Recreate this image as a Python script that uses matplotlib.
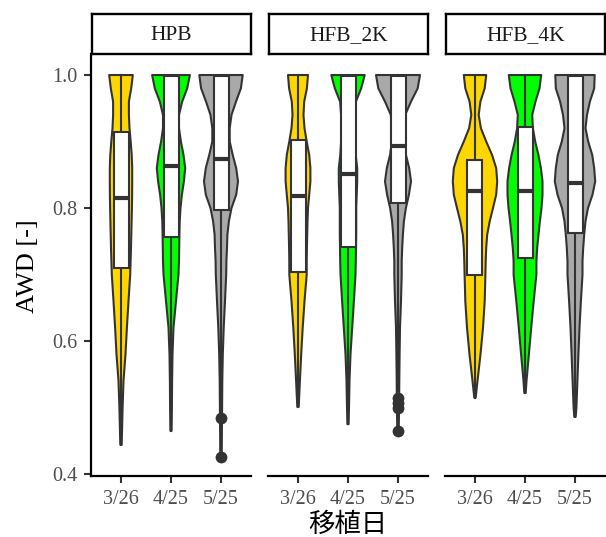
import matplotlib.pyplot as plt
from matplotlib.patches import Rectangle

facets = ['HPB', 'HFB_2K', 'HFB_4K']
dates = ['3/26', '4/25', '5/25']
fills = ['#FFD700', '#00FF00', '#A9A9A9']

# violin half-widths (px, 50 px = one category step)
levels = [1.00, 0.98, 0.96, 0.94, 0.92, 0.90, 0.88, 0.86, 0.84, 0.82,
          0.80, 0.78, 0.76, 0.74, 0.72, 0.70, 0.66, 0.62, 0.58, 0.54]

widths = {
    ('HPB', '3/26'): [11.8, 10.2, 7.9, 7.9, 8.5, 9.7, 10.7, 11.2, 11.2, 11.1,
                      10.9, 10.6, 10.3, 10.0, 9.6, 9.2, 7.5, 5.9, 4.5, 2.5],
    ('HPB', '4/25'): [18.9, 16.2, 11.2, 8.0, 8.0, 9.9, 12.5, 14.2, 12.9, 10.9,
                      9.5, 8.7, 8.4, 8.2, 8.0, 7.5, 5.0, 2.5, 1.5, 1.1],
    ('HPB', '5/25'): [21.7, 19.9, 15.0, 10.5, 8.7, 8.7, 11.7, 15.2, 17.0, 15.2,
                      10.5, 7.9, 6.4, 6.0, 5.4, 5.2, 4.0, 2.7, 1.8, 1.3],
    ('HFB_2K', '3/26'): [10.0, 8.9, 6.2, 5.5, 6.5, 8.7, 11.2, 12.4, 12.4, 11.2,
                         10.0, 9.5, 9.2, 8.9, 8.7, 8.7, 6.5, 4.7, 3.2, 1.9],
    ('HFB_2K', '4/25'): [16.7, 13.2, 7.9, 6.9, 6.9, 6.9, 7.7, 9.2, 9.2, 8.7,
                         8.2, 8.2, 8.2, 8.0, 7.8, 7.5, 5.9, 4.2, 2.5, 1.5],
    ('HFB_2K', '5/25'): [22.0, 19.7, 13.0, 7.2, 6.2, 6.2, 7.9, 11.2, 13.0, 10.9,
                         7.9, 5.9, 4.9, 4.2, 3.7, 3.7, 3.0, 2.0, 1.6, 1.3],
    ('HFB_4K', '3/26'): [11.2, 9.7, 5.4, 3.7, 5.9, 11.2, 17.0, 21.2, 22.2, 21.2,
                         18.0, 14.7, 12.2, 11.2, 10.7, 10.4, 9.7, 8.0, 5.5, 2.5],
    ('HFB_4K', '4/25'): [16.2, 14.5, 10.5, 7.2, 7.9, 10.2, 13.4, 15.9, 17.5, 17.5,
                         16.5, 14.9, 13.5, 12.2, 11.4, 11.4, 8.7, 6.2, 3.9, 1.5],
    ('HFB_4K', '5/25'): [19.7, 19.2, 14.9, 12.0, 10.5, 13.2, 17.2, 19.2, 20.2, 17.5,
                         13.0, 10.5, 9.2, 8.2, 7.5, 7.5, 5.9, 4.5, 3.4, 2.4],
}

# lower tails (y, half-width)
tails = {
    ('HPB', '3/26'): [(0.50, 1.6), (0.444, 0.7)],
    ('HPB', '4/25'): [(0.50, 0.9), (0.465, 0.6)],
    ('HPB', '5/25'): [(0.50, 1.1), (0.425, 0.7)],
    ('HFB_2K', '3/26'): [(0.501, 0.7)],
    ('HFB_2K', '4/25'): [(0.50, 1.0), (0.475, 0.6)],
    ('HFB_2K', '5/25'): [(0.50, 1.1), (0.464, 0.7)],
    ('HFB_4K', '3/26'): [(0.515, 0.7)],
    ('HFB_4K', '4/25'): [(0.522, 0.7)],
    ('HFB_4K', '5/25'): [(0.50, 1.4), (0.486, 0.7)],
}

# box stats: lower whisker, q1, median, q3, upper whisker
boxes = {
    ('HPB', '3/26'): (0.444, 0.710, 0.815, 0.915, 1.0),
    ('HPB', '4/25'): (0.465, 0.757, 0.863, 0.998, 1.0),
    ('HPB', '5/25'): (0.500, 0.797, 0.874, 0.998, 1.0),
    ('HFB_2K', '3/26'): (0.501, 0.704, 0.818, 0.902, 1.0),
    ('HFB_2K', '4/25'): (0.475, 0.742, 0.851, 0.998, 1.0),
    ('HFB_2K', '5/25'): (0.525, 0.808, 0.894, 0.998, 1.0),
    ('HFB_4K', '3/26'): (0.515, 0.699, 0.826, 0.872, 1.0),
    ('HFB_4K', '4/25'): (0.522, 0.725, 0.826, 0.922, 1.0),
    ('HFB_4K', '5/25'): (0.486, 0.762, 0.838, 0.998, 1.0),
}

outliers = {
    ('HPB', '5/25'): [0.484, 0.425],
    ('HFB_2K', '5/25'): [0.514, 0.507, 0.499, 0.464],
}

serif = 'Liberation Serif'
dark = '#333333'
lw = 1.5
W, H = 606, 537
lefts = [91, 268, 445]
pw, top, bottom = 160, 54, 476

fig = plt.figure(figsize=(W / 100, H / 100), dpi=100)

for i, facet in enumerate(facets):
    ax = fig.add_axes([lefts[i] / W, (H - bottom) / H, pw / W, (bottom - top) / H])
    ax.set_xlim(0.4, 3.6)
    ax.set_ylim(0.3970, 1.0316)

    for j, d in enumerate(dates):
        key = (facet, d)
        c = j + 1
        ys = levels + [t[0] for t in tails[key]]
        ws = [w / 50 for w in widths[key]] + [t[1] / 50 for t in tails[key]]
        xs = [c - w for w in ws] + [c + w for w in ws[::-1]]
        yy = ys + ys[::-1]
        ax.fill(xs, yy, facecolor=fills[j], edgecolor=dark, lw=lw,
                joinstyle='round', zorder=1)

        lo, q1, med, q3, hi = boxes[key]
        ax.plot([c, c], [q3, hi], color=dark, lw=lw, zorder=2)
        ax.plot([c, c], [lo, q1], color=dark, lw=lw, zorder=2)
        ax.add_patch(Rectangle((c - 0.15, q1), 0.3, q3 - q1, facecolor='white',
                               edgecolor=dark, lw=lw, zorder=3))
        ax.plot([c - 0.15, c + 0.15], [med, med], color=dark, lw=3.0,
                solid_capstyle='butt', zorder=4)
        if key in outliers:
            ax.plot([c] * len(outliers[key]), outliers[key], 'o', color=dark,
                    ms=8.5, mec='none', zorder=5)

    for s in ['top', 'right']:
        ax.spines[s].set_visible(False)
    ax.spines['bottom'].set_linewidth(1.6)
    ax.spines['bottom'].set_color('black')
    ax.set_xticks([1, 2, 3])
    ax.set_xticklabels(dates, fontsize=14.5, family=serif, color='#4D4D4D')
    ax.set_yticks([0.4, 0.6, 0.8, 1.0])
    ax.tick_params(length=5, width=1.5, color=dark, pad=5)
    if i == 0:
        ax.spines['left'].set_linewidth(1.6)
        ax.spines['left'].set_color('black')
        ax.set_yticklabels(['0.4', '0.6', '0.8', '1.0'], fontsize=14.5,
                           family=serif, color='#4D4D4D')
    else:
        ax.spines['left'].set_visible(False)
        ax.tick_params(axis='y', left=False, labelleft=False)

    sx = fig.add_axes([(lefts[i] + 1) / W, (H - 54) / H, (pw - 1) / W, 40 / H])
    sx.set_xticks([])
    sx.set_yticks([])
    for s in sx.spines.values():
        s.set_linewidth(1.7)
        s.set_color('black')
    sx.text(0.5, 0.47, facet, ha='center', va='center', fontsize=15.5,
            family=serif, color='#1A1A1A', transform=sx.transAxes)

fig.text(28 / W, 1 - 266 / H, 'AWD [-]', rotation=90, ha='center', va='center',
         fontsize=19, family=serif, color='black')
fig.text(348 / W, 1 - 524 / H, '移植日', ha='center', va='center', fontsize=19,
         family=['Noto Sans CJK JP', 'DejaVu Sans'], color='black')

fig.savefig('out.png', dpi=100)
